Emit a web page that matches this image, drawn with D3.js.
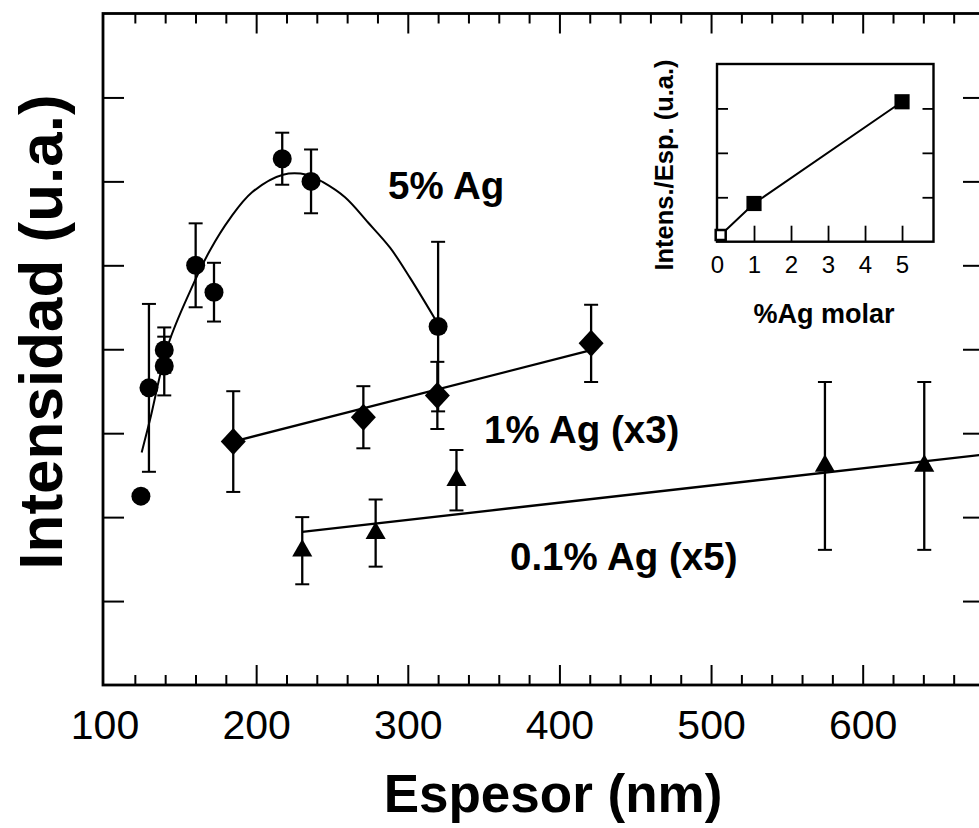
<!DOCTYPE html>
<html>
<head>
<meta charset="utf-8">
<script src="https://cdn.jsdelivr.net/npm/d3@7"></script>
<style>
  body { margin: 0; background: #fff; }
  svg { display: block; }
  text { font-family: "Liberation Sans", Arial, sans-serif; fill: #000; }
</style>
</head>
<body>
<svg id="chart" width="979" height="828"></svg>
<script>
// ---- Data: intensity vs film thickness for three Ag contents ----
const ag5Thickness = [124, 129.3, 139.4, 139.4, 160.1, 172.2, 217.2, 236.2, 320];
const ag5Intensity = [2.25, 3.54, 3.99, 3.80, 5.00, 4.68, 6.27, 6.00, 4.27];
const ag5Error     = [0, 1.00, 0.27, 0.35, 0.50, 0.35, 0.31, 0.38, 1.01];

// smooth fit drawn through the 5% Ag points
const ag5FitThickness = [124.5, 130.0, 141.9, 156.4, 169.6, 182.8, 197.3, 217.7, 233.5, 244.1, 258.6, 273.8, 288.3, 301.5, 319.3];
const ag5FitIntensity = [2.77, 3.16, 4.05, 4.69, 5.18, 5.56, 5.87, 6.08, 6.08, 5.99, 5.81, 5.51, 5.21, 4.85, 4.32];

const ag1Thickness = [184.9, 270.7, 319.5, 420.9];
const ag1Intensity = [2.90, 3.19, 3.45, 4.07];
const ag1Error     = [0.60, 0.37, 0.40, 0.46];
const ag1FitThickness = [184.9, 420.9];
const ag1FitIntensity = [2.90, 3.99];

const ag01Thickness = [230.4, 278.8, 332.1, 575.1, 640.6];
const ag01Intensity = [1.60, 1.81, 2.44, 2.61, 2.61];
const ag01Error     = [0.40, 0.40, 0.36, 1.00, 1.00];
const ag01FitThickness = [230.4, 680];
const ag01FitIntensity = [1.825, 2.745];

const xTickLabels = [100, 200, 300, 400, 500, 600];
const yTickValues = [1, 2, 3, 4, 5, 6, 7];
const seriesLabels = ["5% Ag", "1% Ag (x3)", "0.1% Ag (x5)"];

// inset: intensity/thickness vs molar Ag
const insetAg    = [0.1, 1, 5];
const insetRatio = [0.15, 0.86, 3.15];
const insetXTicks = [0, 1, 2, 3, 4, 5];
const insetYTicks = [1, 2, 3];

// ---- Layout ----
const svg = d3.select("#chart");
const L = 103, R = 984, T = 13.5, B = 685;

const x = d3.scaleLinear().domain([99, 680]).range([L, R]);
const y = d3.scaleLinear().domain([0, 8]).range([B, T]);

const ink = "#000";

// frame
svg.append("rect")
  .attr("x", L).attr("y", T).attr("width", R - L).attr("height", B - T)
  .attr("fill", "none").attr("stroke", ink).attr("stroke-width", 2.8);

// x ticks (bottom pointing up, top pointing down)
const majorX = d3.range(200, 700, 100);
const minorX = d3.range(120, 680, 20).filter(v => v % 100 !== 0);

function xTicks(g, vals, len, dir) {
  g.append("g")
    .attr("transform", `translate(0,${dir === "up" ? B : T})`)
    .call((dir === "up" ? d3.axisBottom(x) : d3.axisTop(x))
      .tickValues(vals).tickSizeInner(-len).tickSizeOuter(0).tickFormat(""))
    .call(a => a.select(".domain").remove())
    .call(a => a.selectAll(".tick line").attr("stroke", ink).attr("stroke-width", 2));
}
xTicks(svg, majorX, 20, "up");
xTicks(svg, minorX, 10, "up");
xTicks(svg, majorX, 20, "down");
xTicks(svg, minorX, 10, "down");

// y ticks (left and right, pointing inward)
svg.append("g").attr("transform", `translate(${L},0)`)
  .call(d3.axisLeft(y).tickValues(yTickValues).tickSizeInner(-21).tickSizeOuter(0).tickFormat(""))
  .call(a => a.select(".domain").remove())
  .call(a => a.selectAll(".tick line").attr("stroke", ink).attr("stroke-width", 2));
svg.append("g").attr("transform", `translate(${R},0)`)
  .call(d3.axisRight(y).tickValues(yTickValues).tickSizeInner(-21).tickSizeOuter(0).tickFormat(""))
  .call(a => a.select(".domain").remove())
  .call(a => a.selectAll(".tick line").attr("stroke", ink).attr("stroke-width", 2));

// x tick labels
svg.append("g").attr("transform", `translate(0,${B})`)
  .call(d3.axisBottom(x).tickValues(xTickLabels).tickSize(0).tickPadding(25).tickFormat(d3.format("d")))
  .call(a => a.select(".domain").remove())
  .call(a => a.selectAll("text")
    .attr("font-size", 41).attr("fill", ink)
    .style("font-family", '"Liberation Sans", Arial, sans-serif'));

// axis titles
svg.append("text")
  .attr("x", 553).attr("y", 812)
  .attr("text-anchor", "middle")
  .attr("font-size", 53).attr("font-weight", "bold")
  .text("Espesor (nm)");

svg.append("text")
  .attr("transform", "translate(62,332) rotate(-90)")
  .attr("text-anchor", "middle")
  .attr("font-size", 62).attr("font-weight", "bold")
  .text("Intensidad (u.a.)");

// ---- Fit lines ----
svg.append("path")
  .datum(d3.zip(ag5FitThickness, ag5FitIntensity))
  .attr("d", d3.line().x(d => x(d[0])).y(d => y(d[1])).curve(d3.curveCatmullRom))
  .attr("fill", "none").attr("stroke", ink).attr("stroke-width", 2);

svg.append("path")
  .datum(d3.zip(ag1FitThickness, ag1FitIntensity))
  .attr("d", d3.line().x(d => x(d[0])).y(d => y(d[1])))
  .attr("fill", "none").attr("stroke", ink).attr("stroke-width", 2.3);

svg.append("path")
  .datum(d3.zip(ag01FitThickness, ag01FitIntensity))
  .attr("d", d3.line().x(d => x(d[0])).y(d => y(d[1])))
  .attr("fill", "none").attr("stroke", ink).attr("stroke-width", 2.3);

// ---- Error bars ----
function errorBars(xs, ys, es) {
  const rows = d3.zip(xs, ys, es).filter(d => d[2] > 0);
  const g = svg.append("g").attr("stroke", ink).attr("fill", "none");
  rows.forEach(([xv, yv, ev]) => {
    const cx = x(xv), y0 = y(yv - ev), y1 = y(yv + ev);
    g.append("line").attr("x1", cx).attr("x2", cx).attr("y1", y0).attr("y2", y1).attr("stroke-width", 2.3);
    g.append("line").attr("x1", cx - 7).attr("x2", cx + 7).attr("y1", y0).attr("y2", y0).attr("stroke-width", 2);
    g.append("line").attr("x1", cx - 7).attr("x2", cx + 7).attr("y1", y1).attr("y2", y1).attr("stroke-width", 2);
  });
}
errorBars(ag5Thickness, ag5Intensity, ag5Error);
errorBars(ag1Thickness, ag1Intensity, ag1Error);
errorBars(ag01Thickness, ag01Intensity, ag01Error);

// ---- Markers ----
svg.append("g").selectAll("circle")
  .data(d3.zip(ag5Thickness, ag5Intensity))
  .join("circle")
  .attr("cx", d => x(d[0])).attr("cy", d => y(d[1])).attr("r", 9.5)
  .attr("fill", ink);

const diamond = d3.line().x(d => d[0]).y(d => d[1]);
svg.append("g").selectAll("path")
  .data(d3.zip(ag1Thickness, ag1Intensity))
  .join("path")
  .attr("d", d => {
    const cx = x(d[0]), cy = y(d[1]);
    return diamond([[cx, cy - 13.5], [cx + 12.5, cy], [cx, cy + 13.5], [cx - 12.5, cy]]) + "Z";
  })
  .attr("fill", ink);

svg.append("g").selectAll("path")
  .data(d3.zip(ag01Thickness, ag01Intensity))
  .join("path")
  .attr("transform", d => `translate(${x(d[0])},${y(d[1])})`)
  .attr("d", d3.symbol(d3.symbolTriangle, 175))
  .attr("fill", ink);

// series labels
const labelPos = [[388, 199], [484, 443], [510, 570]];
svg.append("g").selectAll("text")
  .data(seriesLabels)
  .join("text")
  .attr("x", (d, i) => labelPos[i][0]).attr("y", (d, i) => labelPos[i][1])
  .attr("font-size", 38.5).attr("font-weight", "bold")
  .text(d => d);

// ---- Inset ----
const iL = 717, iR = 933.5, iT = 64, iB = 241.7;
const ix = d3.scaleLinear().domain([0, 5.85]).range([iL, iR]);
const iy = d3.scaleLinear().domain([0, 4]).range([iB, iT]);
const inset = svg.append("g");

inset.append("rect")
  .attr("x", iL).attr("y", iT).attr("width", iR - iL).attr("height", iB - iT)
  .attr("fill", "#fff").attr("stroke", ink).attr("stroke-width", 2.4);

inset.append("g").attr("transform", `translate(0,${iB})`)
  .call(d3.axisBottom(ix).tickValues(insetXTicks.filter(v => v > 0)).tickSizeInner(-16).tickSizeOuter(0).tickFormat(""))
  .call(a => a.select(".domain").remove())
  .call(a => a.selectAll(".tick line").attr("stroke", ink).attr("stroke-width", 1.8));

inset.append("g").attr("transform", `translate(0,${iB})`)
  .call(d3.axisBottom(ix).tickValues(insetXTicks).tickSize(0).tickPadding(14).tickFormat(d3.format("d")))
  .call(a => a.select(".domain").remove())
  .call(a => a.selectAll("text").attr("font-size", 24).attr("fill", ink)
    .style("font-family", '"Liberation Sans", Arial, sans-serif'));

inset.append("g").attr("transform", `translate(${iL},0)`)
  .call(d3.axisLeft(iy).tickValues(insetYTicks).tickSizeInner(-11).tickSizeOuter(0).tickFormat(""))
  .call(a => a.select(".domain").remove())
  .call(a => a.selectAll(".tick line").attr("stroke", ink).attr("stroke-width", 1.8));
inset.append("g").attr("transform", `translate(${iR},0)`)
  .call(d3.axisRight(iy).tickValues(insetYTicks).tickSizeInner(-11).tickSizeOuter(0).tickFormat(""))
  .call(a => a.select(".domain").remove())
  .call(a => a.selectAll(".tick line").attr("stroke", ink).attr("stroke-width", 1.8));

inset.append("path")
  .datum(d3.zip(insetAg, insetRatio))
  .attr("d", d3.line().x(d => ix(d[0])).y(d => iy(d[1])))
  .attr("fill", "none").attr("stroke", ink).attr("stroke-width", 2);

inset.append("g").selectAll("path")
  .data(d3.zip(insetAg, insetRatio))
  .join("path")
  .attr("transform", d => `translate(${ix(d[0])},${iy(d[1])})`)
  .attr("d", (d, i) => d3.symbol(d3.symbolSquare, i === 0 ? 100 : 230)())
  .attr("fill", (d, i) => i === 0 ? "#fff" : ink)
  .attr("stroke", ink).attr("stroke-width", (d, i) => i === 0 ? 2.5 : 0);

inset.append("text")
  .attr("x", 824).attr("y", 323)
  .attr("text-anchor", "middle")
  .attr("font-size", 27).attr("font-weight", "bold")
  .text("%Ag molar");

inset.append("text")
  .attr("transform", "translate(673,165) rotate(-90)")
  .attr("text-anchor", "middle")
  .attr("font-size", 25.5).attr("font-weight", "bold")
  .text("Intens./Esp. (u.a.)");
</script>
</body>
</html>
